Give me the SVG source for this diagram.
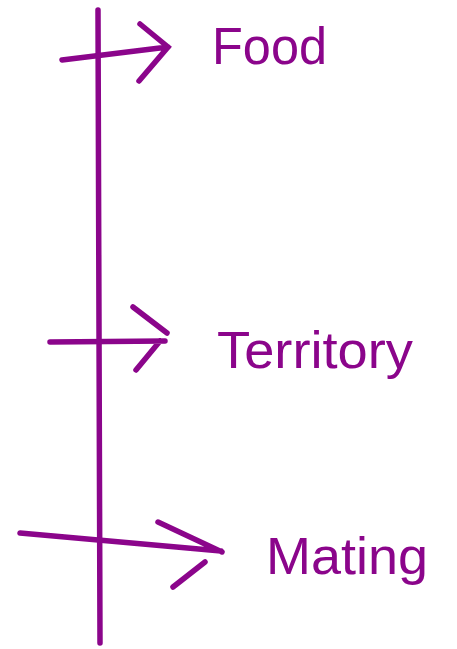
<svg xmlns="http://www.w3.org/2000/svg" width="457" height="649" viewBox="0 0 457 649">
<style>
.s{stroke:#8b058b;stroke-width:5.5;stroke-linecap:round;fill:none}
.t{fill:#8b058b;font-family:"Liberation Sans",Arial,sans-serif;font-size:52px}
</style>
<rect width="457" height="649" fill="#fff"/>
<g id="connectors">
<line class="s" x1="98" y1="10" x2="100" y2="643"/>
<path class="s" d="M62 60 L168 47 M140 24 L168 47 L139 81"/>
<path class="s" d="M50 342 L165 341 M133 307 L167 333 M136 370 L160 341"/>
<path class="s" d="M20 533 L221 551 M158 522 L222 552 M173 587 L205 562"/>
</g>
<g id="food"><text class="t" x="212" y="64" textLength="115" lengthAdjust="spacingAndGlyphs">Food</text></g>
<g id="territory"><text class="t" x="217" y="368" textLength="196" lengthAdjust="spacingAndGlyphs">Territory</text></g>
<g id="mating"><text class="t" x="266" y="574" textLength="162" lengthAdjust="spacingAndGlyphs">Mating</text></g>
</svg>
